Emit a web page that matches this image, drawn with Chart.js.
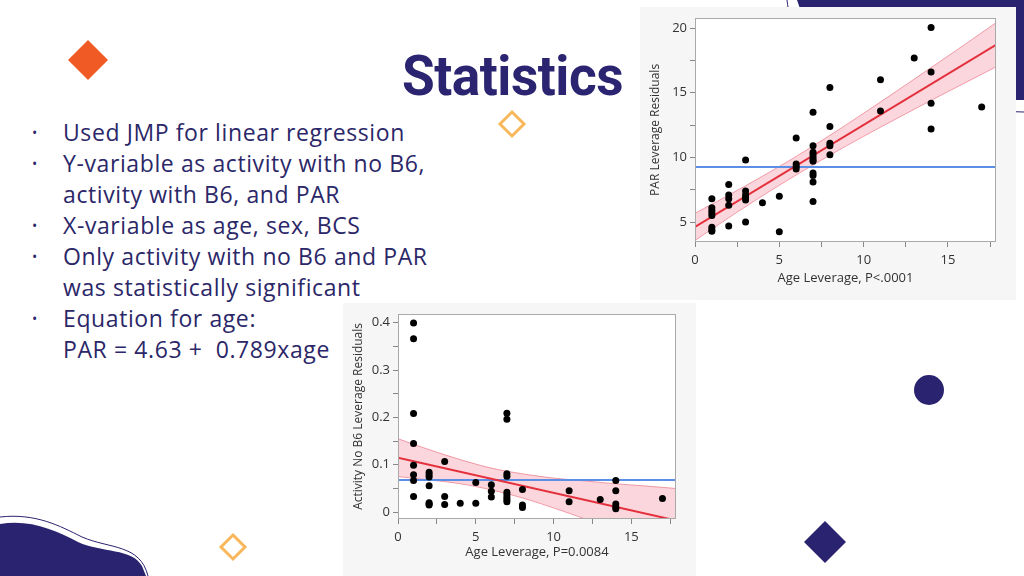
<!DOCTYPE html>
<html>
<head>
<meta charset="utf-8">
<script src="https://cdn.jsdelivr.net/npm/chart.js@4.4.1/dist/chart.umd.min.js"></script>
<style>
  html, body { margin: 0; padding: 0; }
  body { width: 1024px; height: 576px; position: relative; overflow: hidden; background: #fff; font-family: "Open Sans", Lato, sans-serif; }
  #deco { position: absolute; left: 0; top: 0; }
  .title { position: absolute; left: 402px; top: 46px; font-family: Roboto, sans-serif; font-weight: 700; font-size: 56px; line-height: 60px; color: #2b2470; transform-origin: left top; transform: scaleX(0.95); letter-spacing: -0.5px; white-space: pre; }
  .list { position: absolute; left: 0; top: 117px; font-size: 23px; line-height: 31px; color: #2b2768; letter-spacing: 0.6px; }
  .list div { position: relative; padding-left: 63px; white-space: pre; }
  .list span.b { position: absolute; left: 32px; font-size: 14px; }
  .panel { position: absolute; background: #f6f6f6; }
</style>
</head>
<body>
<svg id="deco" width="1024" height="576">
  <path d="M797,0 L1024,0 L1024,100 L960,100 C880,96 820,70 797,0 Z" fill="#2a2370"/>
  <path d="M787,0 C792,50 840,105 960,110 L1024,112" fill="none" stroke="#2a2370" stroke-width="1"/>
  <path d="M0,576 L0,524 C30,519 55,530 78,542 C102,553 132,548 142,566 L146,576 Z" fill="#2a2370"/>
  <path d="M0,517 C36,513 60,526 82,537 C110,549 140,544 148,576" fill="none" stroke="#2a2370" stroke-width="1"/>
  <polygon points="88,40 108,60 88,80 68,60" fill="#f05a24"/>
  <polygon points="512,112 524,124 512,136 500,124" fill="none" stroke="#f8b75a" stroke-width="3"/>
  <polygon points="233,535 245,547 233,559 221,547" fill="none" stroke="#f8b75a" stroke-width="3"/>
  <circle cx="929" cy="390" r="15" fill="#2a2370"/>
  <polygon points="825,521 846,542 825,563 804,542" fill="#2a2370"/>
</svg>

<div class="title">Statistics</div>
<div class="list">
  <div><span class="b">•</span>Used JMP for linear regression</div>
  <div><span class="b">•</span>Y-variable as activity with no B6,</div>
  <div>activity with B6, and PAR</div>
  <div><span class="b">•</span>X-variable as age, sex, BCS</div>
  <div><span class="b">•</span>Only activity with no B6 and PAR</div>
  <div>was statistically significant</div>
  <div><span class="b">•</span>Equation for age:</div>
  <div>PAR = 4.63 +  0.789xage</div>
</div>

<div class="panel" style="left:640px; top:7px; width:376px; height:293px;">
  <canvas id="parChart"></canvas>
</div>
<div class="panel" style="left:343px; top:303px; width:353px; height:273px;">
  <canvas id="actChart"></canvas>
</div>

<script>
// shared x ticks (labels only on multiples of 5)
var ageTicks = [0, 2.5, 5, 7.5, 10, 12.5, 15, 17.5];

// PAR leverage plot
var parAge = [1,1,1,1,1,1,1,1, 2,2,2,2,2, 3,3,3,3,3,3, 4, 5,5, 6,6,6,6,
              7,7,7,7,7,7,7,7,7,7,7, 8,8,8,8,8, 11,11, 13, 14,14,14,14, 17];
var parResid = [6.8,6.1,5.9,5.7,5.5,4.6,4.4,4.3, 7.9,7.1,6.8,6.3,4.7, 9.8,7.4,7.1,6.9,6.7,5.0, 6.5, 7.0,4.25, 11.5,9.5,9.3,9.1,
                13.5,10.9,10.4,10.2,10.0,9.8,9.7,8.8,8.6,8.1,6.6, 15.4,12.4,11.1,10.9,10.2, 16.0,13.6, 17.7, 20.05,16.6,14.2,12.2, 13.9];
var parFitX = [0, 17.85];
var parFitY = [4.63, 18.71];
var parMeanY = 9.27;
var parBandX = [0, 2, 4, 6, 8, 10, 12, 14, 16, 17.85];
var parBandUp = [5.68, 7.09, 8.55, 10.08, 11.71, 13.42, 15.17, 16.95, 18.74, 20.42];
var parBandLo = [3.58, 5.33, 7.03, 8.64, 10.17, 11.63, 13.03, 14.41, 15.76, 17.0];
var parYTicks = [5, 7.5, 10, 12.5, 15, 17.5, 20];
var parYLabels = ['5', '', '10', '', '15', '', '20'];

// Activity no B6 leverage plot
var actAge = [1,1,1,1,1,1,1,1, 2,2,2,2,2,2,2, 3,3,3, 4, 5,5, 6,6,6,
              7,7,7,7,7,7,7,7,7, 8,8,8, 11,11, 13, 14,14,14,14,14, 17];
var actResid = [0.399,0.366,0.208,0.145,0.099,0.079,0.067,0.033, 0.084,0.079,0.074,0.056,0.020,0.017,0.015,
                0.107,0.033,0.016, 0.019, 0.0625,0.019, 0.058,0.044,0.032,
                0.209,0.196,0.081,0.076,0.042,0.037,0.031,0.026,0.022, 0.048,0.015,0.010,
                0.045,0.022, 0.027, 0.067,0.045,0.017,0.011,0.007, 0.029];
var actFitX = [0, 17.87];
var actFitY = [0.1148, -0.0175];
var actMeanY = 0.068;
var actBandX = [0, 2, 4, 6, 8, 10, 12, 14, 16, 17.87];
var actBandUp = [0.155, 0.132, 0.111, 0.093, 0.081, 0.072, 0.066, 0.060, 0.055, 0.050];
var actBandLo = [0.075, 0.068, 0.060, 0.047, 0.030, 0.009, -0.014, -0.038, -0.062, -0.086];
var actYTicks = [0, 0.05, 0.1, 0.15, 0.2, 0.25, 0.3, 0.35, 0.4];
var actYLabels = ['0', '', '0.1', '', '0.2', '', '0.3', '', '0.4'];

function pts(xs, ys) { return xs.map(function (x, i) { return {x: x, y: ys[i]}; }); }

var frame = {
  id: 'frame',
  beforeDatasetsDraw: function (c) {
    var a = c.chartArea, ctx = c.ctx;
    ctx.save(); ctx.fillStyle = '#fff';
    ctx.fillRect(a.left, a.top, a.right - a.left, a.bottom - a.top);
    ctx.restore();
  },
  afterDatasetsDraw: function (c) {
    var a = c.chartArea, ctx = c.ctx;
    ctx.save(); ctx.strokeStyle = '#a9a9a9'; ctx.lineWidth = 1;
    ctx.strokeRect(Math.round(a.left) + 0.5, Math.round(a.top) + 0.5, Math.round(a.right - a.left) - 1, Math.round(a.bottom - a.top) - 1);
    ctx.restore();
  }
};

function setTicks(values) {
  return function (s) { s.ticks = values.map(function (v) { return {value: v}; }); };
}
function labelFrom(values, labels) {
  return function (v) { var i = values.indexOf(v); return i < 0 ? '' : labels[i]; };
}

function makeChart(id, o) {
  var tickFont = {family: '"Open Sans", "DejaVu Sans", sans-serif', size: 13};
  var ds = [
    {data: pts(o.bandX, o.bandUp), showLine: true, pointRadius: 0, borderColor: 'rgba(232,90,110,0.55)', borderWidth: 1, tension: 0.35, fill: '+1', backgroundColor: 'rgba(242,120,140,0.3)', order: 4},
    {data: pts(o.bandX, o.bandLo), showLine: true, pointRadius: 0, borderColor: 'rgba(232,90,110,0.55)', borderWidth: 1, tension: 0.35, fill: false, order: 4},
    {data: pts([o.xmin, o.xmax], [o.mean, o.mean]), showLine: true, pointRadius: 0, borderColor: '#5b8ee6', borderWidth: 2, order: 3},
    {data: pts(o.fitX, o.fitY), showLine: true, pointRadius: 0, borderColor: '#e4303d', borderWidth: 2, order: 2},
    {data: pts(o.xs, o.ys), pointRadius: 3.5, pointBackgroundColor: '#000', pointBorderWidth: 0, order: 1}
  ];
  return new Chart(document.getElementById(id), {
    type: 'scatter',
    data: {datasets: ds},
    options: {
      responsive: true, maintainAspectRatio: false, animation: false,
      layout: {padding: {top: o.padTop, right: 20, left: 8, bottom: o.padBottom}},
      plugins: {legend: {display: false}, tooltip: {enabled: false}},
      scales: {
        x: {
          type: 'linear', min: o.xmin, max: o.xmax,
          afterFit: function (s) { s.height = o.xh; },
          afterBuildTicks: setTicks(ageTicks),
          ticks: {autoSkip: false, maxRotation: 0, color: '#333', font: tickFont, padding: 5,
                  callback: function (v) { return v % 5 === 0 ? String(v) : ''; }},
          grid: {drawOnChartArea: false, drawTicks: true, tickLength: 5, color: '#888'},
          border: {display: false},
          title: {display: true, text: o.xTitle, color: '#333', font: tickFont, padding: {top: 0, bottom: 0}}
        },
        y: {
          type: 'linear', min: o.ymin, max: o.ymax,
          afterFit: function (s) { s.width = 47; },
          afterBuildTicks: setTicks(o.yTicks),
          ticks: {autoSkip: false, color: '#333', font: tickFont, padding: 3,
                  callback: labelFrom(o.yTicks, o.yLabels)},
          grid: {drawOnChartArea: false, drawTicks: true, tickLength: 5, color: '#888'},
          border: {display: false},
          title: {display: true, text: o.yTitle, color: '#333', font: {family: tickFont.family, size: 12}, padding: {top: 0, bottom: 0}}
        }
      }
    },
    plugins: [frame]
  });
}

makeChart('parChart', {
  xs: parAge, ys: parResid, fitX: parFitX, fitY: parFitY, mean: parMeanY,
  bandX: parBandX, bandUp: parBandUp, bandLo: parBandLo,
  xmin: 0, xmax: 17.85, ymin: 3.46, ymax: 20.8, yTicks: parYTicks, yLabels: parYLabels,
  padTop: 10, padBottom: 14, xh: 44,
  xTitle: 'Age Leverage, P<.0001', yTitle: 'PAR Leverage Residuals'
});

makeChart('actChart', {
  xs: actAge, ys: actResid, fitX: actFitX, fitY: actFitY, mean: actMeanY,
  bandX: actBandX, bandUp: actBandUp, bandLo: actBandLo,
  xmin: 0, xmax: 17.87, ymin: -0.0144, ymax: 0.4186, yTicks: actYTicks, yLabels: actYLabels,
  padTop: 6, padBottom: 16, xh: 41,
  xTitle: 'Age Leverage, P=0.0084', yTitle: 'Activity No B6 Leverage Residuals'
});
</script>
</body>
</html>
